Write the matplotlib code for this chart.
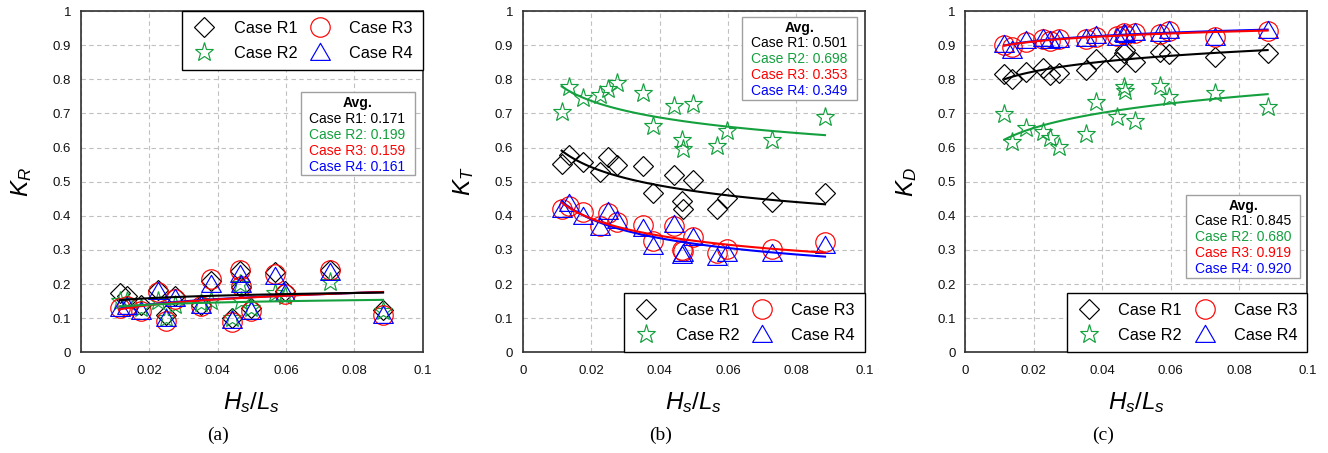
import numpy as np
import matplotlib
matplotlib.use("Agg")
import matplotlib.pyplot as plt
from matplotlib.patches import Rectangle
from matplotlib.path import Path
from matplotlib.ticker import FixedLocator, FuncFormatter

plt.rcParams['font.family'] = ['Liberation Sans', 'DejaVu Sans']
plt.rcParams['mathtext.fontset'] = 'custom'
plt.rcParams['mathtext.rm'] = 'Liberation Sans'
plt.rcParams['mathtext.it'] = 'Liberation Sans:italic'

# ---- data -----------------------------------------------------------------
cases = ['Case R1', 'Case R2', 'Case R3', 'Case R4']

steepness = [0.0114, 0.0136, 0.0177, 0.0226, 0.0248, 0.0275, 0.0353, 0.0382,
             0.0443, 0.0465, 0.0468, 0.0497, 0.0569, 0.0596, 0.0730, 0.0884]

kr_r1 = [0.173, 0.165, 0.140, 0.183, 0.110, 0.165, 0.140, 0.210,
         0.100, 0.237, 0.190, 0.130, 0.235, 0.180, 0.240, 0.125]
kr_r2 = [0.150, 0.150, 0.130, 0.150, 0.100, 0.140, 0.145, 0.150,
         0.100, 0.200, 0.150, 0.130, 0.175, 0.165, 0.205, 0.120]
kr_r3 = [0.130, 0.135, 0.120, 0.177, 0.092, 0.155, 0.135, 0.215,
         0.088, 0.240, 0.195, 0.120, 0.230, 0.172, 0.240, 0.110]
kr_r4 = [0.130, 0.135, 0.120, 0.180, 0.100, 0.160, 0.140, 0.200,
         0.095, 0.230, 0.200, 0.120, 0.225, 0.175, 0.235, 0.110]

kt_r1 = [0.553, 0.578, 0.558, 0.527, 0.573, 0.550, 0.546, 0.468,
         0.519, 0.443, 0.419, 0.504, 0.420, 0.451, 0.440, 0.467]
kt_r2 = [0.704, 0.776, 0.746, 0.753, 0.770, 0.789, 0.760, 0.662,
         0.721, 0.623, 0.597, 0.727, 0.605, 0.649, 0.621, 0.688]
kt_r3 = [0.421, 0.428, 0.412, 0.370, 0.409, 0.382, 0.373, 0.326,
         0.371, 0.301, 0.298, 0.339, 0.290, 0.304, 0.304, 0.324]
kt_r4 = [0.421, 0.436, 0.399, 0.368, 0.415, 0.387, 0.365, 0.311,
         0.376, 0.285, 0.290, 0.339, 0.280, 0.290, 0.290, 0.314]

kd_r1 = [0.814, 0.800, 0.822, 0.834, 0.812, 0.818, 0.826, 0.858,
         0.850, 0.878, 0.885, 0.852, 0.880, 0.874, 0.866, 0.878]
kd_r2 = [0.697, 0.617, 0.656, 0.646, 0.627, 0.601, 0.639, 0.734,
         0.690, 0.778, 0.766, 0.678, 0.780, 0.749, 0.759, 0.719]
kd_r3 = [0.900, 0.895, 0.909, 0.919, 0.912, 0.917, 0.919, 0.925,
         0.927, 0.936, 0.929, 0.936, 0.934, 0.941, 0.925, 0.941]
kd_r4 = [0.902, 0.887, 0.915, 0.922, 0.915, 0.919, 0.922, 0.929,
         0.925, 0.936, 0.934, 0.938, 0.936, 0.944, 0.925, 0.944]

avg_kr = [0.171, 0.199, 0.159, 0.161]
avg_kt = [0.501, 0.698, 0.353, 0.349]
avg_kd = [0.845, 0.680, 0.919, 0.920]

x_ticks = [0, 0.02, 0.04, 0.06, 0.08, 0.1]
y_ticks = [0, 0.1, 0.2, 0.3, 0.4, 0.5, 0.6, 0.7, 0.8, 0.9, 1.0]

# ---- styling ----------------------------------------------------------------
GREEN = '#14A03E'
colors = ['black', GREEN, '#FF0000', '#0000FF']
triangle = Path([(-1, -0.8), (1, -0.8), (0, 0.93), (-1, -0.8)], closed=True)
markers = ['D', '*', 'o', triangle]
msizes = [9.8, 14.0, 14.0, 14.2]

W, H = 1328, 453
fig = plt.figure(figsize=(W / 100, H / 100), dpi=100)

panels = [
    dict(left=80.7, data=[kr_r1, kr_r2, kr_r3, kr_r4], avg=avg_kr,
         ylabel=r'$K_R$', tag='(a)', tag_x=218,
         legend_loc='upper right',
         box=(0.643, 0.519, 0.335, 0.243),
         rows=[0.730, 0.684, 0.637, 0.591, 0.544], text_x=0.668),
    dict(left=522.7, data=[kt_r1, kt_r2, kt_r3, kt_r4], avg=avg_kt,
         ylabel=r'$K_T$', tag='(b)', tag_x=661,
         legend_loc='lower right',
         box=(0.640, 0.739, 0.337, 0.243),
         rows=[0.950, 0.905, 0.858, 0.812, 0.766], text_x=0.667),
    dict(left=965.3, data=[kd_r1, kd_r2, kd_r3, kd_r4], avg=avg_kd,
         ylabel=r'$K_D$', tag='(c)', tag_x=1103,
         legend_loc='lower right',
         box=(0.646, 0.219, 0.334, 0.241),
         rows=[0.429, 0.384, 0.337, 0.290, 0.244], text_x=0.671),
]


def power_trend(x, y, n=120):
    x = np.asarray(x)
    y = np.asarray(y)
    b, ln_a = np.polyfit(np.log(x), np.log(y), 1)
    xs = np.linspace(x.min(), x.max(), n)
    return xs, np.exp(ln_a) * xs ** b


for p in panels:
    ax = fig.add_axes([p['left'] / W, (H - 352.3) / H, 342 / W, 341.3 / H])
    ax.set_xlim(0, 0.1)
    ax.set_ylim(0, 1)
    ax.set_axisbelow(True)
    ax.grid(True, color='#C0C0C0', linestyle=(0, (4, 3)), linewidth=0.8)
    for s in ax.spines.values():
        s.set_color('#303030')
        s.set_linewidth(1.2)
    ax.xaxis.set_major_locator(FixedLocator(x_ticks))
    ax.yaxis.set_major_locator(FixedLocator(y_ticks))
    fmt = FuncFormatter(lambda v, pos: f'{round(v, 3):g}')
    ax.xaxis.set_major_formatter(fmt)
    ax.yaxis.set_major_formatter(fmt)
    ax.tick_params(axis='both', length=0, labelsize=9.5, labelcolor='#111111')
    ax.tick_params(axis='x', pad=9)
    ax.tick_params(axis='y', pad=7)

    handles = []
    for vals, c, m, ms, lab in zip(p['data'], colors, markers, msizes, cases):
        h, = ax.plot(steepness, vals, linestyle='none', marker=m,
                     markersize=ms, markerfacecolor='none',
                     markeredgecolor=c, markeredgewidth=0.85, label=lab,
                     zorder=3)
        handles.append(h)

    # power-law trend lines, one per case
    for idx in [3, 2, 1, 0]:
        xs, ys = power_trend(steepness, p['data'][idx])
        ax.plot(xs, ys, color=colors[idx], linewidth=1.5, zorder=4)

    leg = ax.legend(handles, cases, ncol=2, loc=p['legend_loc'],
                    borderaxespad=0, fontsize=11.7, handlelength=1.5,
                    handletextpad=1.05, columnspacing=0.66, borderpad=0.6,
                    labelspacing=0.6, frameon=True, fancybox=False,
                    edgecolor='black', framealpha=1)
    leg.get_frame().set_linewidth(1.0)
    leg.set_zorder(6)

    bx, by, bw, bh = p['box']
    ax.add_patch(Rectangle((bx, by), bw, bh, transform=ax.transAxes,
                           facecolor='white', edgecolor='#A0A0A0',
                           linewidth=1.0, zorder=6))
    ax.text(bx + bw / 2, p['rows'][0], 'Avg.', transform=ax.transAxes,
            ha='center', va='center', fontsize=10, fontweight='bold',
            zorder=7)
    for r, (lab, v, c) in enumerate(zip(cases, p['avg'], colors)):
        ax.text(p['text_x'], p['rows'][r + 1], f'{lab}: {v:.3f}',
                transform=ax.transAxes, ha='left', va='center',
                fontsize=10, color=c, zorder=7)

    ax.text(-0.172, 0.5, p['ylabel'], transform=ax.transAxes, rotation=90,
            ha='center', va='center', fontsize=17.5)
    ax.text(0.5, -0.147, r'$H_s/L_s$', transform=ax.transAxes,
            ha='center', va='center', fontsize=17.5)
    fig.text(p['tag_x'] / W, 1 - 435 / H, p['tag'], ha='center', va='center',
             fontsize=14, family='Liberation Serif')

fig.savefig('out.png', dpi=100)
